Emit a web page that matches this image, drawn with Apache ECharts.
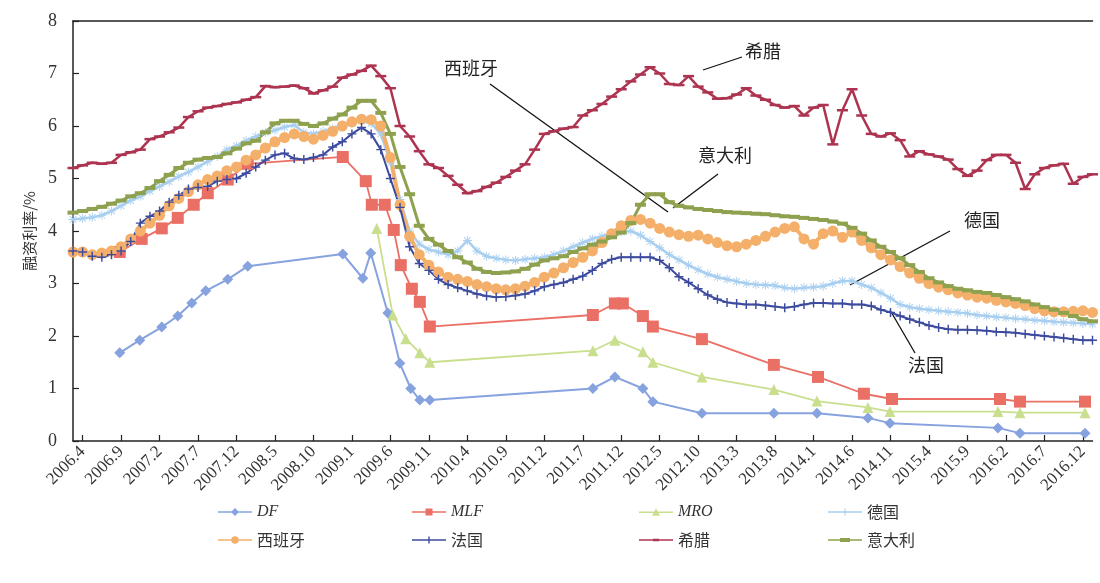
<!DOCTYPE html>
<html>
<head>
<meta charset="utf-8">
<script src="https://cdn.jsdelivr.net/npm/echarts@6/dist/echarts.min.js"></script>
<style>
  html, body { margin: 0; padding: 0; background: #fff; }
  #chart { width: 1100px; height: 583px; }
</style>
</head>
<body>
<div id="chart"></div>
<script>
// Axis tick labels (one every four samples)
const tickLabels = ['2006.4', '2006.9', '2007.2', '2007.7', '2007.12', '2008.5', '2008.10', '2009.1',
  '2009.6', '2009.11', '2010.4', '2010.9', '2011.2', '2011.7', '2011.12', '2012.5', '2012.10',
  '2013.3', '2013.8', '2014.1', '2014.6', '2014.11', '2015.4', '2015.9', '2016.2', '2016.7', '2016.12'];

// Sovereign financing rates, %, sampled four times per labelled interval
const germany = [4.22, 4.24, 4.26, 4.30, 4.38, 4.48, 4.58, 4.66, 4.76, 4.85, 4.94, 5.04, 5.12, 5.22, 5.32, 5.42,
  5.55, 5.62, 5.72, 5.80, 5.88, 5.92, 5.98, 6.02, 5.88, 5.85, 5.90, 5.95, 6.02, 6.05, 6.10, 6.05, 5.85, 5.30,
  4.60, 4.00, 3.75, 3.65, 3.60, 3.55, 3.62, 3.82, 3.62, 3.52, 3.48, 3.45, 3.44, 3.46, 3.48, 3.50, 3.55, 3.62,
  3.70, 3.78, 3.85, 3.90, 3.95, 3.98, 4.00, 3.92, 3.80, 3.68, 3.55, 3.45, 3.35, 3.26, 3.18, 3.12, 3.08, 3.04,
  3.00, 2.98, 2.97, 2.96, 2.92, 2.90, 2.92, 2.93, 2.95, 3.00, 3.05, 3.05, 2.98, 2.92, 2.82, 2.72, 2.60, 2.55,
  2.52, 2.50, 2.48, 2.46, 2.45, 2.43, 2.40, 2.38, 2.36, 2.35, 2.33, 2.32, 2.30, 2.29, 2.27, 2.26, 2.25, 2.24, 2.23];

const spain = [3.60, 3.60, 3.55, 3.58, 3.62, 3.70, 3.85, 4.00, 4.15, 4.30, 4.48, 4.62, 4.75, 4.88, 4.98, 5.05,
  5.15, 5.22, 5.35, 5.45, 5.58, 5.70, 5.78, 5.85, 5.80, 5.75, 5.82, 5.90, 6.00, 6.08, 6.13, 6.12, 6.00, 5.40,
  4.50, 3.90, 3.55, 3.35, 3.22, 3.12, 3.08, 3.04, 2.98, 2.94, 2.90, 2.88, 2.90, 2.95, 3.02, 3.12, 3.20, 3.30,
  3.40, 3.50, 3.62, 3.78, 3.95, 4.10, 4.20, 4.22, 4.15, 4.05, 3.98, 3.93, 3.90, 3.92, 3.85, 3.78, 3.72, 3.70,
  3.75, 3.82, 3.90, 3.98, 4.05, 4.08, 3.85, 3.75, 3.95, 4.00, 3.88, 3.98, 3.82, 3.68, 3.55, 3.45, 3.32, 3.20,
  3.10, 3.00, 2.93, 2.88, 2.82, 2.78, 2.74, 2.72, 2.68, 2.65, 2.62, 2.58, 2.52, 2.48, 2.46, 2.46, 2.47, 2.48, 2.45];

const france = [3.62, 3.60, 3.52, 3.50, 3.55, 3.62, 3.80, 4.15, 4.28, 4.38, 4.55, 4.68, 4.80, 4.83, 4.85, 4.95,
  4.98, 5.00, 5.10, 5.22, 5.35, 5.45, 5.48, 5.38, 5.36, 5.40, 5.45, 5.60, 5.70, 5.85, 5.97, 5.85, 5.55, 5.00,
  4.45, 3.70, 3.38, 3.25, 3.08, 2.98, 2.92, 2.86, 2.80, 2.76, 2.74, 2.75, 2.77, 2.80, 2.86, 2.94, 2.98, 3.02,
  3.08, 3.14, 3.25, 3.38, 3.46, 3.50, 3.50, 3.50, 3.50, 3.44, 3.30, 3.13, 3.02, 2.90, 2.78, 2.70, 2.64, 2.62,
  2.60, 2.60, 2.58, 2.56, 2.54, 2.56, 2.60, 2.63, 2.63, 2.62, 2.62, 2.60, 2.60, 2.57, 2.50, 2.45, 2.38, 2.32,
  2.26, 2.20, 2.16, 2.13, 2.12, 2.12, 2.11, 2.10, 2.08, 2.07, 2.06, 2.04, 2.02, 2.00, 1.98, 1.96, 1.94, 1.92, 1.92];

const greece = [5.20, 5.25, 5.30, 5.28, 5.30, 5.45, 5.50, 5.55, 5.75, 5.80, 5.88, 5.97, 6.17, 6.28, 6.35, 6.38,
  6.42, 6.45, 6.50, 6.55, 6.76, 6.74, 6.75, 6.77, 6.72, 6.62, 6.68, 6.75, 6.92, 6.98, 7.05, 7.15, 6.95, 6.72,
  6.00, 5.80, 5.52, 5.27, 5.20, 5.05, 4.88, 4.72, 4.76, 4.84, 4.92, 5.03, 5.15, 5.27, 5.55, 5.85, 5.90, 5.95,
  5.98, 6.20, 6.30, 6.42, 6.56, 6.70, 6.85, 6.98, 7.12, 7.00, 6.80, 6.78, 6.95, 6.75, 6.64, 6.52, 6.53, 6.60,
  6.72, 6.58, 6.50, 6.40, 6.35, 6.38, 6.20, 6.35, 6.40, 5.65, 6.30, 6.70, 6.20, 5.85, 5.80, 5.86, 5.73, 5.42,
  5.52, 5.46, 5.42, 5.36, 5.18, 5.05, 5.15, 5.35, 5.45, 5.45, 5.30, 4.80, 5.08, 5.20, 5.25, 5.28, 4.90, 5.03, 5.08];

const italy = [4.35, 4.38, 4.42, 4.46, 4.52, 4.58, 4.66, 4.72, 4.82, 4.95, 5.07, 5.20, 5.30, 5.36, 5.39, 5.41,
  5.48, 5.57, 5.67, 5.72, 5.88, 6.05, 6.10, 6.10, 6.04, 6.00, 6.05, 6.14, 6.22, 6.35, 6.48, 6.48, 6.25, 5.85,
  5.22, 4.70, 4.10, 3.85, 3.74, 3.62, 3.50, 3.40, 3.28, 3.22, 3.20, 3.21, 3.23, 3.28, 3.36, 3.44, 3.48, 3.52,
  3.60, 3.67, 3.74, 3.80, 3.88, 3.97, 4.15, 4.50, 4.70, 4.70, 4.55, 4.48, 4.45, 4.42, 4.40, 4.38, 4.36, 4.35,
  4.34, 4.33, 4.32, 4.30, 4.28, 4.27, 4.25, 4.23, 4.21, 4.18, 4.14, 4.06, 3.95, 3.82, 3.70, 3.60, 3.48, 3.35,
  3.22, 3.10, 3.02, 2.95, 2.90, 2.87, 2.84, 2.82, 2.78, 2.74, 2.70, 2.66, 2.60, 2.55, 2.50, 2.44, 2.38, 2.32, 2.28];

// ECB policy rates, %, only at the dates where they change (position in sample units)
const dfPos = [4.86, 6.94, 9.23, 10.89, 12.35, 13.80, 16.09, 18.17, 28.05, 30.13, 30.96, 32.73, 33.98, 35.12,
  36.06, 37.10, 54.05, 56.34, 59.25, 60.29, 65.39, 72.87, 77.35, 82.65, 84.94, 96.17, 98.46, 105.22];
const dfVal = [1.68, 1.92, 2.17, 2.38, 2.63, 2.86, 3.08, 3.33, 3.56, 3.10, 3.58, 2.44, 1.48, 1.00,
  0.78, 0.78, 1.00, 1.22, 1.00, 0.75, 0.53, 0.53, 0.53, 0.44, 0.34, 0.25, 0.15, 0.15];

const mlfPos = [4.86, 7.14, 9.23, 10.89, 12.55, 14.01, 16.09, 18.17, 28.05, 30.44, 31.07, 32.42, 33.35, 34.08,
  35.23, 36.06, 37.10, 54.05, 56.34, 57.17, 59.25, 60.29, 65.39, 72.87, 77.46, 82.23, 85.15, 96.38, 98.46, 105.22];
const mlfVal = [3.60, 3.85, 4.05, 4.25, 4.50, 4.72, 4.98, 5.28, 5.41, 4.95, 4.50, 4.50, 4.02, 3.35,
  2.90, 2.65, 2.18, 2.40, 2.62, 2.62, 2.38, 2.18, 1.94, 1.45, 1.22, 0.90, 0.80, 0.80, 0.75, 0.75];

const mroPos = [31.58, 33.25, 34.60, 36.06, 37.10, 54.05, 56.34, 59.25, 60.29, 65.39, 72.87, 77.35, 82.65,
  84.94, 96.17, 98.46, 105.22];
const mroVal = [4.05, 2.40, 1.95, 1.68, 1.50, 1.72, 1.92, 1.70, 1.50, 1.22, 0.98, 0.76, 0.64,
  0.56, 0.56, 0.54, 0.54];

const STEP = 4;
// Category names: the tick label at each labelled sample, sub-sample names in between
const categories = germany.map((_, i) => {
  const k = i - 1;
  if (k < 0) return tickLabels[0] + '-';
  const base = tickLabels[Math.min(Math.floor(k / STEP), tickLabels.length - 1)];
  return k % STEP === 0 && k / STEP < tickLabels.length ? base : base + '+' + (k % STEP);
});
const isTick = (idx) => (idx - 1) % STEP === 0 && idx >= 1 && (idx - 1) / STEP < tickLabels.length;

const SERIF = '"Liberation Serif", "Times New Roman", "Noto Sans CJK SC", serif';
const CJK = '"Noto Sans CJK SC", "Liberation Serif", serif';

// Point markers
const plus = 'path://M4.2,0H5.8V4.2H10V5.8H5.8V10H4.2V5.8H0V4.2H4.2Z';
const star = 'path://M4.5,0H5.5V10H4.5Z M0,4.5H10V5.5H0Z M1,1.7L1.7,1L9,8.3L8.3,9Z M8.3,1L9,1.7L1.7,9L1,8.3Z';

// Legend keys: a thin line with a small marker in the middle (34 x 14 box)
const keyLine = 'M0,6.3H34V7.7H0Z';
const keys = {
  'DF': 'path://' + keyLine + 'M17,3L21,7L17,11L13,7Z',
  'MLF': 'path://' + keyLine + 'M13.5,3.5H20.5V10.5H13.5Z',
  'MRO': 'path://' + keyLine + 'M17,3L21,10.5H13Z',
  '德国': 'path://' + keyLine + 'M16.5,3.5H17.5V10.5H16.5Z M14,6.5H20V7.5H14Z',
  '西班牙': 'path://' + keyLine + 'M17,3.2A3.8,3.8 0 1,1 16.99,3.2Z',
  '法国': 'path://' + keyLine + 'M16.3,3.5H17.7V10.5H16.3Z',
  '希腊': 'path://' + keyLine + 'M14,5.8H20V8.2H14Z',
  '意大利': 'path://' + keyLine + 'M12,5H22V9H12Z'
};

function pairs(pos, val) { return pos.map((p, i) => [p, val[i]]); }

const C = {
  df: '#86a2df', mlf: '#ea7066', mro: '#c9df8e', de: '#a9cff0',
  es: '#f4b06a', fr: '#3d4b9e', gr: '#ad3450', it: '#8ea14e'
};

const option = {
  animation: false,
  backgroundColor: '#ffffff',
  grid: { left: 73, right: 7.5, top: 21, bottom: 142, containLabel: false },
  xAxis: [
    {
      type: 'category', data: categories, boundaryGap: false,
      axisLine: { lineStyle: { color: '#222', width: 1.5 } },
      axisTick: { inside: true, length: 6, interval: (i) => isTick(i), lineStyle: { color: '#222', width: 1.2 } },
      axisLabel: {
        interval: (i) => isTick(i), rotate: 45, margin: 8, color: '#333',
        fontFamily: SERIF, fontSize: 17
      },
      splitLine: { show: false }
    },
    {
      type: 'value', position: 'top', min: 0, max: germany.length - 1,
      axisLine: { show: true, onZero: false, lineStyle: { color: '#222', width: 1.5 } },
      axisTick: { show: false }, axisLabel: { show: false }, splitLine: { show: false }
    }
  ],
  yAxis: {
    type: 'value', min: 0, max: 8, interval: 1,
    name: '融资利率/%', nameLocation: 'middle', nameGap: 36, nameRotate: 90,
    nameTextStyle: { fontFamily: CJK, fontSize: 15, color: '#333' },
    axisLine: { show: true, lineStyle: { color: '#222', width: 1.5 } },
    axisTick: { show: true, inside: true, length: 6, lineStyle: { color: '#222', width: 1.2 } },
    axisLabel: { margin: 16, color: '#333', fontFamily: SERIF, fontSize: 18 },
    splitLine: { show: false }
  },
  legend: [
    { data: ['DF', '西班牙'], left: 213 },
    { data: ['MLF', '法国'], left: 407 },
    { data: ['MRO', '希腊'], left: 634 },
    { data: ['德国', '意大利'], left: 823 }
  ].map(l => ({
    data: l.data.map(n => ({
      name: n,
      icon: keys[n],
      textStyle: /^[A-Z]+$/.test(n) ? { fontStyle: 'italic', fontFamily: SERIF } : { fontFamily: CJK }
    })),
    left: l.left, top: 499, orient: 'vertical', itemGap: 12, itemWidth: 34, itemHeight: 14,
    textStyle: { fontSize: 16, color: '#333' }
  })),
  series: [
    {
      name: 'DF', type: 'line', xAxisIndex: 1, data: pairs(dfPos, dfVal),
      symbol: 'diamond', symbolSize: 11, lineStyle: { color: C.df, width: 2 }, itemStyle: { color: C.df }
    },
    {
      name: 'MLF', type: 'line', xAxisIndex: 1, data: pairs(mlfPos, mlfVal),
      symbol: 'rect', symbolSize: 12, lineStyle: { color: C.mlf, width: 1.8 }, itemStyle: { color: C.mlf }
    },
    {
      name: 'MRO', type: 'line', xAxisIndex: 1, data: pairs(mroPos, mroVal),
      symbol: 'triangle', symbolSize: 11, lineStyle: { color: C.mro, width: 1.8 }, itemStyle: { color: C.mro }
    },
    {
      name: '德国', type: 'line', data: germany, symbol: star, symbolSize: 9, showAllSymbol: true,
      lineStyle: { color: C.de, width: 2.5 }, itemStyle: { color: C.de }
    },
    {
      name: '西班牙', type: 'line', data: spain, symbol: 'circle', symbolSize: 11, showAllSymbol: true,
      lineStyle: { color: C.es, width: 4 }, itemStyle: { color: C.es }
    },
    {
      name: '法国', type: 'line', data: france, symbol: plus, symbolSize: 9, showAllSymbol: true,
      lineStyle: { color: C.fr, width: 2 }, itemStyle: { color: C.fr }
    },
    {
      name: '希腊', type: 'line', data: greece, symbol: 'rect', symbolSize: [11, 2.5], showAllSymbol: true,
      lineStyle: { color: C.gr, width: 2.5 }, itemStyle: { color: C.gr }
    },
    {
      name: '意大利', type: 'line', data: italy, symbol: 'rect', symbolSize: [11, 4], showAllSymbol: true,
      lineStyle: { color: C.it, width: 3 }, itemStyle: { color: C.it }
    }
  ],
  graphic: [
    { type: 'line', shape: { x1: 703, y1: 70, x2: 742, y2: 57 }, style: { stroke: '#111', lineWidth: 1.3 } },
    { type: 'text', left: 745, top: 42, style: { text: '希腊', font: '18px ' + CJK, fill: '#222' } },
    { type: 'line', shape: { x1: 490, y1: 84, x2: 668, y2: 212 }, style: { stroke: '#111', lineWidth: 1.3 } },
    { type: 'text', left: 444, top: 59, style: { text: '西班牙', font: '18px ' + CJK, fill: '#222' } },
    { type: 'line', shape: { x1: 718, y1: 174, x2: 673, y2: 208 }, style: { stroke: '#111', lineWidth: 1.3 } },
    { type: 'text', left: 698, top: 146, style: { text: '意大利', font: '18px ' + CJK, fill: '#222' } },
    { type: 'line', shape: { x1: 950, y1: 231, x2: 850, y2: 285 }, style: { stroke: '#111', lineWidth: 1.3 } },
    { type: 'text', left: 964, top: 211, style: { text: '德国', font: '18px ' + CJK, fill: '#222' } },
    { type: 'line', shape: { x1: 890, y1: 310, x2: 915, y2: 353 }, style: { stroke: '#111', lineWidth: 1.3 } },
    { type: 'text', left: 908, top: 356, style: { text: '法国', font: '18px ' + CJK, fill: '#222' } }
  ]
};

const chart = echarts.init(document.getElementById('chart'), null, { renderer: 'canvas' });
chart.setOption(option);
</script>
</body>
</html>
